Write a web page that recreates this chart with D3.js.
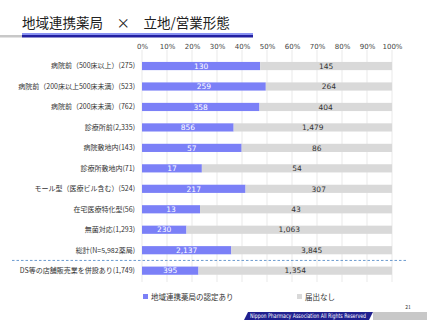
<!DOCTYPE html>
<html>
<head>
<meta charset="utf-8">
<script src="https://cdn.jsdelivr.net/npm/d3@7"></script>
<style>
  body { margin: 0; background: #fff; }
  svg { font-family: "Noto Sans CJK JP", "Noto Sans", sans-serif; }
</style>
</head>
<body>
<div id="vis"></div>
<script>
// chart data
const categories = [
  "病院前（500床以上）(275)",
  "病院前（200床以上500床未満）(523)",
  "病院前（200床未満）(762)",
  "診療所前(2,335)",
  "病院敷地内(143)",
  "診療所敷地内(71)",
  "モール型（医療ビル含む）(524)",
  "在宅医療特化型(56)",
  "無菌対応(1,293)",
  "総計(N=5,982薬局)",
  "DS等の店舗販売業を併設あり(1,749)"
];
const certified = [130, 259, 358, 856, 57, 17, 217, 13, 230, 2137, 395];
const notFiled = [145, 264, 404, 1479, 86, 54, 307, 43, 1063, 3845, 1354];
const seriesNames = ["地域連携薬局の認定あり", "届出なし"];
const tickValues = [0, 0.1, 0.2, 0.3, 0.4, 0.5, 0.6, 0.7, 0.8, 0.9, 1.0];

const WIDTH = 427, HEIGHT = 320;
const BLUE = "#7b80f7", GRAY = "#d9d9d9";

const svg = d3.select("#vis").append("svg")
  .attr("width", WIDTH)
  .attr("height", HEIGHT);

// title + underline
svg.append("text")
  .attr("x", 22).attr("y", 28)
  .attr("font-size", 13.5)
  .attr("fill", "#222")
  .text("地域連携薬局　×　立地/営業形態");
svg.append("rect").attr("x", 0).attr("y", 35).attr("width", 22).attr("height", 2.5).attr("fill", "#c8c8c8");
svg.append("rect").attr("x", 22).attr("y", 33).attr("width", 231).attr("height", 2).attr("fill", "#8a93f2");
svg.append("rect").attr("x", 22).attr("y", 35).attr("width", 231).attr("height", 2.5).attr("fill", "#2320a0");

const X = d3.scaleLinear().domain([0, 1]).range([142, 392]);
const Y = d3.scaleBand().domain(categories).range([55.8, 280.9]).paddingInner(0.6).paddingOuter(0.3);

// gridlines
svg.append("g").selectAll("line")
  .data(tickValues)
  .enter().append("line")
    .attr("x1", d => X(d)).attr("x2", d => X(d))
    .attr("y1", 50).attr("y2", 282)
    .attr("stroke", "#e3e3e3").attr("stroke-width", 0.8);

// top axis
const axis = svg.append("g")
  .attr("transform", "translate(0,49)")
  .call(d3.axisTop(X).tickValues(tickValues).tickFormat(d3.format(".0%")).tickSize(0).tickPadding(0));
axis.select(".domain").remove();
axis.selectAll("text").attr("font-size", 7).attr("fill", "#444").attr("font-family", "'DejaVu Sans', sans-serif");

const rows = categories.map((c, i) => {
  const total = certified[i] + notFiled[i];
  return { cat: c, a: certified[i], b: notFiled[i], pa: certified[i] / total };
});

// category labels
svg.append("g").selectAll("text")
  .data(rows)
  .enter().append("text")
    .attr("x", 135)
    .attr("y", d => Y(d.cat) + Y.bandwidth() / 2)
    .attr("dy", "0.35em")
    .attr("text-anchor", "end")
    .attr("font-size", 7)
    .attr("fill", "#333")
    .text(d => d.cat);

// bars
const bars = svg.append("g");
bars.selectAll(".ba")
  .data(rows)
  .enter().append("rect")
    .attr("x", X(0))
    .attr("y", d => Y(d.cat))
    .attr("width", d => X(d.pa) - X(0))
    .attr("height", Y.bandwidth())
    .attr("fill", BLUE);
bars.selectAll(".bb")
  .data(rows)
  .enter().append("rect")
    .attr("x", d => X(d.pa))
    .attr("y", d => Y(d.cat))
    .attr("width", d => X(1) - X(d.pa))
    .attr("height", Y.bandwidth())
    .attr("fill", GRAY);

// value labels
const fmt = d3.format(",");
bars.selectAll(".la")
  .data(rows)
  .enter().append("text")
    .attr("x", d => X(d.pa / 2))
    .attr("y", d => Y(d.cat) + Y.bandwidth() / 2)
    .attr("dy", "0.36em")
    .attr("text-anchor", "middle")
    .attr("font-size", 7.5)
    .attr("fill", "#fff")
    .attr("font-family", "'DejaVu Sans', sans-serif")
    .text(d => fmt(d.a));
bars.selectAll(".lb")
  .data(rows)
  .enter().append("text")
    .attr("x", d => X((d.pa + 1) / 2))
    .attr("y", d => Y(d.cat) + Y.bandwidth() / 2)
    .attr("dy", "0.36em")
    .attr("text-anchor", "middle")
    .attr("font-size", 7.5)
    .attr("fill", "#333")
    .attr("font-family", "'DejaVu Sans', sans-serif")
    .text(d => fmt(d.b));

// dashed separator between 総計 and DS row
const sepY = (Y(categories[9]) + Y(categories[10]) + Y.bandwidth()) / 2;
svg.append("line")
  .attr("x1", 12).attr("x2", 408)
  .attr("y1", sepY).attr("y2", sepY)
  .attr("stroke", "#5a8fca").attr("stroke-width", 0.9)
  .attr("stroke-dasharray", "2.5,2");

// legend
const legendX = [143, 297];
const legend = svg.append("g").selectAll("g")
  .data(seriesNames)
  .enter().append("g")
    .attr("transform", (d, i) => "translate(" + legendX[i] + ",297)");
legend.append("rect")
  .attr("x", 0).attr("y", -3).attr("width", 5).attr("height", 5)
  .attr("fill", (d, i) => i === 0 ? BLUE : GRAY);
legend.append("text")
  .attr("x", 8).attr("y", 0).attr("dy", "0.35em")
  .attr("font-size", 7.5).attr("fill", "#333")
  .text(d => d);

// footer banner
svg.append("path")
  .attr("d", "M248,312 L373,312 L369,320 L244,320 Z")
  .attr("fill", "#20208f");
svg.append("rect").attr("x", 373).attr("y", 312).attr("width", 54).attr("height", 8).attr("fill", "#c8c8c8");
svg.append("text")
  .attr("x", 250).attr("y", 318.3)
  .attr("font-size", 6.3).attr("fill", "#fff")
  .attr("font-family", "'DejaVu Sans', sans-serif")
  .attr("textLength", 116)
  .attr("lengthAdjust", "spacingAndGlyphs")
  .text("Nippon Pharmacy Association All Rights Reserved");
svg.append("text")
  .attr("x", 408).attr("y", 309)
  .attr("text-anchor", "middle")
  .attr("font-size", 5).attr("fill", "#333")
  .text("21");
</script>
</body>
</html>
